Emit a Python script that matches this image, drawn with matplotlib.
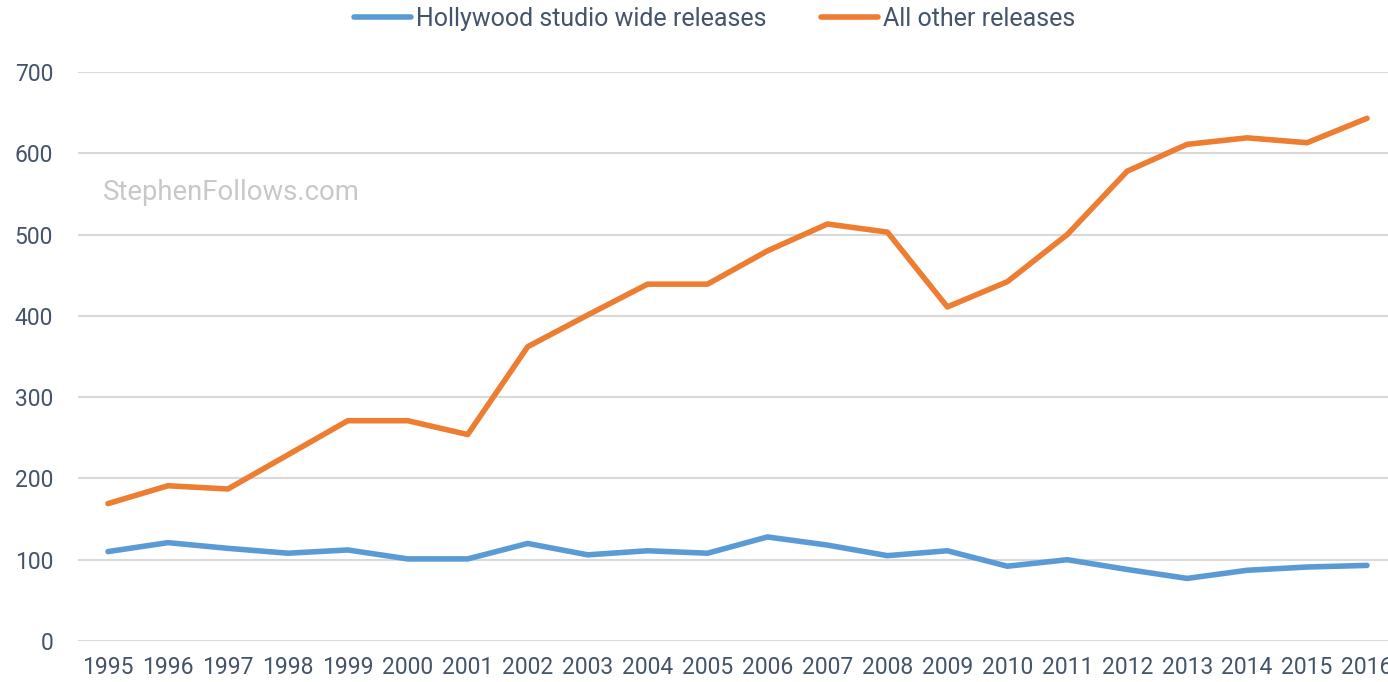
import matplotlib
matplotlib.use("Agg")
import matplotlib.pyplot as plt

years = list(range(1995, 2017))
hollywood = [110, 121, 114, 108, 112, 101, 101, 120, 106, 111, 108,
             128, 118, 105, 111, 92, 100, 88, 77, 87, 91, 93]
others = [169, 191, 187, 229, 271, 271, 254, 362, 401, 439, 439,
          480, 513, 503, 411, 442, 500, 578, 611, 619, 613, 643]
y_ticks = [0, 100, 200, 300, 400, 500, 600, 700]

blue = "#5b9bd5"
orange = "#ed7d31"
text_col = "#44546a"
grid_col = "#d9d9d9"

plt.rcParams["font.family"] = ["Roboto", "DejaVu Sans"]

fig = plt.figure(figsize=(13.88, 6.82), dpi=100)
ax = fig.add_axes([78 / 1388, 41 / 682, (1397 - 78) / 1388, (641 - 72) / 682])

ax.plot(years, hollywood, color=blue, lw=4, solid_capstyle="round",
        solid_joinstyle="round", label="Hollywood studio wide releases", zorder=3)
ax.plot(years, others, color=orange, lw=4, solid_capstyle="round",
        solid_joinstyle="round", label="All other releases", zorder=3)

ax.set_xlim(years[0] - 0.5, years[-1] + 0.5)
ax.set_ylim(0, 700)
ax.set_yticks(y_ticks)
ax.set_xticks(years)
ax.set_xticklabels([str(y) for y in years])

ax.grid(axis="y", color=grid_col, lw=1.5, zorder=0)
ax.set_axisbelow(True)
for s in ax.spines.values():
    s.set_visible(False)
ax.tick_params(axis="both", length=0, colors=text_col, labelsize=16.5)
ax.tick_params(axis="y", pad=18)
ax.tick_params(axis="x", pad=11)

# watermark
fig.text(103 / 1388, 1 - 193 / 682, "StephenFollows.com", color="#c8c8c8",
         fontsize=19.8, ha="left", va="center")

fig.legend(loc="upper center", bbox_to_anchor=(714.5 / 1388, 1.023), ncol=2,
           frameon=False, fontsize=18, labelcolor=text_col,
           handlelength=2.28, handletextpad=0.2, columnspacing=2.16)

fig.savefig("out.png", dpi=100)
